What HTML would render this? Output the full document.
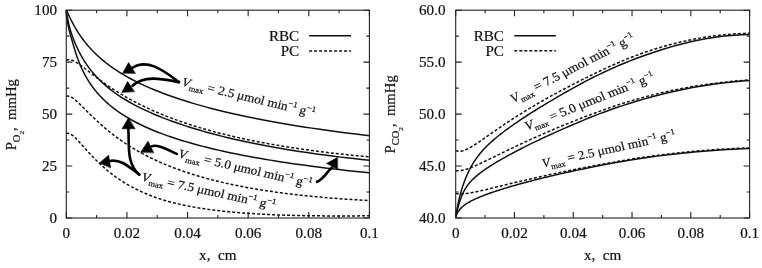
<!DOCTYPE html>
<html><head><meta charset="utf-8"><style>
html,body{margin:0;padding:0;background:#fff;}
svg{display:block;}
text{font-family:"Liberation Serif", "Times New Roman", serif;fill:#111;stroke:#111;stroke-width:0.2px;}
</style></head><body>
<svg xmlns="http://www.w3.org/2000/svg" width="762" height="268" viewBox="0 0 762 268" font-size="14">
<rect width="762" height="268" fill="#fff"/>
<g fill="none" stroke="#111" stroke-width="1.5"><path d="M66.30,10.20 L66.43,10.44 L66.57,10.70 L66.70,10.96 L66.85,11.24 L66.99,11.53 L67.14,11.83 L67.29,12.14 L67.45,12.46 L67.61,12.79 L67.78,13.13 L67.95,13.49 L68.12,13.85 L68.30,14.23 L68.49,14.61 L68.68,15.01 L68.87,15.41 L69.07,15.83 L69.27,16.25 L69.48,16.69 L69.70,17.14 L69.92,17.59 L70.14,18.06 L70.38,18.53 L70.61,19.02 L70.86,19.51 L71.11,20.01 L71.37,20.53 L71.63,21.05 L71.90,21.58 L72.18,22.12 L72.47,22.67 L72.76,23.23 L73.06,23.79 L73.37,24.37 L73.69,24.95 L74.01,25.54 L74.35,26.15 L74.69,26.75 L75.04,27.37 L75.40,28.00 L75.77,28.63 L76.15,29.27 L76.54,29.92 L76.94,30.58 L77.35,31.25 L77.77,31.92 L78.20,32.60 L78.65,33.29 L79.10,33.99 L79.57,34.69 L80.05,35.40 L80.54,36.12 L81.05,36.84 L81.57,37.57 L82.10,38.31 L82.65,39.06 L83.21,39.81 L83.78,40.57 L84.37,41.33 L84.98,42.10 L85.60,42.88 L86.24,43.67 L86.89,44.46 L87.56,45.25 L88.25,46.06 L88.96,46.87 L89.69,47.68 L90.43,48.50 L91.20,49.33 L91.98,50.16 L92.79,51.00 L93.62,51.84 L94.46,52.69 L95.33,53.54 L96.23,54.40 L97.15,55.27 L98.09,56.13 L99.05,57.01 L100.04,57.89 L101.06,58.77 L102.11,59.66 L103.18,60.55 L104.28,61.45 L105.40,62.35 L106.56,63.26 L107.75,64.17 L108.97,65.08 L110.22,66.00 L111.51,66.92 L112.83,67.85 L114.18,68.78 L115.57,69.72 L116.99,70.65 L118.45,71.60 L119.95,72.54 L121.49,73.49 L123.08,74.44 L124.70,75.40 L126.36,76.35 L128.07,77.31 L129.82,78.28 L131.62,79.25 L133.47,80.22 L135.36,81.19 L137.31,82.16 L139.30,83.14 L141.35,84.12 L143.45,85.10 L145.61,86.09 L147.83,87.08 L150.10,88.07 L152.43,89.06 L154.82,90.05 L157.28,91.05 L159.80,92.04 L162.38,93.04 L165.04,94.04 L167.76,95.04 L170.56,96.05 L173.43,97.05 L176.37,98.06 L179.39,99.06 L182.49,100.07 L185.67,101.08 L188.94,102.09 L192.29,103.10 L195.73,104.11 L199.26,105.13 L202.88,106.14 L206.60,107.15 L210.41,108.16 L214.33,109.18 L218.35,110.19 L222.47,111.20 L226.70,112.21 L231.05,113.22 L235.50,114.23 L240.08,115.24 L244.77,116.24 L249.59,117.25 L254.53,118.25 L259.61,119.25 L264.81,120.25 L270.16,121.24 L275.64,122.23 L281.27,123.22 L287.05,124.21 L292.97,125.19 L299.06,126.17 L305.30,127.15 L311.70,128.12 L318.28,129.09 L325.03,130.05 L331.95,131.01 L339.06,131.97 L346.35,132.92 L353.84,133.86 L361.52,134.80 L369.40,135.74"/><path d="M66.30,10.20 L66.43,11.18 L66.57,12.15 L66.70,13.11 L66.85,14.05 L66.99,14.97 L67.14,15.89 L67.29,16.79 L67.45,17.68 L67.61,18.56 L67.78,19.42 L67.95,20.28 L68.12,21.13 L68.30,21.97 L68.49,22.81 L68.68,23.64 L68.87,24.46 L69.07,25.27 L69.27,26.08 L69.48,26.88 L69.70,27.68 L69.92,28.48 L70.14,29.28 L70.38,30.07 L70.61,30.86 L70.86,31.65 L71.11,32.44 L71.37,33.23 L71.63,34.02 L71.90,34.81 L72.18,35.61 L72.47,36.41 L72.76,37.21 L73.06,38.01 L73.37,38.82 L73.69,39.64 L74.01,40.46 L74.35,41.29 L74.69,42.13 L75.04,42.97 L75.40,43.82 L75.77,44.68 L76.15,45.54 L76.54,46.41 L76.94,47.29 L77.35,48.17 L77.77,49.06 L78.20,49.95 L78.65,50.85 L79.10,51.75 L79.57,52.66 L80.05,53.57 L80.54,54.49 L81.05,55.41 L81.57,56.34 L82.10,57.27 L82.65,58.21 L83.21,59.15 L83.78,60.09 L84.37,61.03 L84.98,61.98 L85.60,62.94 L86.24,63.89 L86.89,64.85 L87.56,65.81 L88.25,66.77 L88.96,67.74 L89.69,68.71 L90.43,69.68 L91.20,70.65 L91.98,71.63 L92.79,72.60 L93.62,73.58 L94.46,74.56 L95.33,75.54 L96.23,76.52 L97.15,77.51 L98.09,78.49 L99.05,79.47 L100.04,80.46 L101.06,81.45 L102.11,82.43 L103.18,83.42 L104.28,84.40 L105.40,85.39 L106.56,86.38 L107.75,87.36 L108.97,88.35 L110.22,89.34 L111.51,90.32 L112.83,91.31 L114.18,92.30 L115.57,93.29 L116.99,94.28 L118.45,95.27 L119.95,96.26 L121.49,97.26 L123.08,98.26 L124.70,99.26 L126.36,100.26 L128.07,101.27 L129.82,102.27 L131.62,103.28 L133.47,104.30 L135.36,105.31 L137.31,106.32 L139.30,107.34 L141.35,108.36 L143.45,109.38 L145.61,110.40 L147.83,111.42 L150.10,112.44 L152.43,113.47 L154.82,114.49 L157.28,115.52 L159.80,116.55 L162.38,117.58 L165.04,118.61 L167.76,119.65 L170.56,120.68 L173.43,121.72 L176.37,122.76 L179.39,123.80 L182.49,124.84 L185.67,125.89 L188.94,126.93 L192.29,127.98 L195.73,129.03 L199.26,130.08 L202.88,131.13 L206.60,132.18 L210.41,133.23 L214.33,134.28 L218.35,135.33 L222.47,136.37 L226.70,137.41 L231.05,138.45 L235.50,139.48 L240.08,140.51 L244.77,141.54 L249.59,142.56 L254.53,143.57 L259.61,144.58 L264.81,145.58 L270.16,146.57 L275.64,147.56 L281.27,148.54 L287.05,149.51 L292.97,150.47 L299.06,151.42 L305.30,152.35 L311.70,153.28 L318.28,154.20 L325.03,155.11 L331.95,156.00 L339.06,156.88 L346.35,157.75 L353.84,158.60 L361.52,159.44 L369.40,160.27"/><path d="M66.30,10.20 L66.43,11.90 L66.57,13.49 L66.70,15.00 L66.85,16.42 L66.99,17.77 L67.14,19.04 L67.29,20.25 L67.45,21.39 L67.61,22.47 L67.78,23.51 L67.95,24.49 L68.12,25.44 L68.30,26.35 L68.49,27.23 L68.68,28.08 L68.87,28.91 L69.07,29.73 L69.27,30.54 L69.48,31.35 L69.70,32.15 L69.92,32.96 L70.14,33.79 L70.38,34.62 L70.61,35.47 L70.86,36.34 L71.11,37.23 L71.37,38.14 L71.63,39.06 L71.90,40.01 L72.18,40.98 L72.47,41.98 L72.76,43.00 L73.06,44.04 L73.37,45.11 L73.69,46.19 L74.01,47.29 L74.35,48.41 L74.69,49.54 L75.04,50.69 L75.40,51.84 L75.77,52.99 L76.15,54.16 L76.54,55.32 L76.94,56.49 L77.35,57.66 L77.77,58.82 L78.20,59.98 L78.65,61.14 L79.10,62.30 L79.57,63.46 L80.05,64.62 L80.54,65.77 L81.05,66.92 L81.57,68.07 L82.10,69.21 L82.65,70.36 L83.21,71.50 L83.78,72.64 L84.37,73.78 L84.98,74.91 L85.60,76.05 L86.24,77.18 L86.89,78.30 L87.56,79.43 L88.25,80.55 L88.96,81.67 L89.69,82.79 L90.43,83.90 L91.20,85.01 L91.98,86.12 L92.79,87.23 L93.62,88.33 L94.46,89.43 L95.33,90.53 L96.23,91.62 L97.15,92.71 L98.09,93.79 L99.05,94.88 L100.04,95.96 L101.06,97.04 L102.11,98.11 L103.18,99.18 L104.28,100.25 L105.40,101.31 L106.56,102.37 L107.75,103.43 L108.97,104.49 L110.22,105.54 L111.51,106.59 L112.83,107.64 L114.18,108.68 L115.57,109.72 L116.99,110.76 L118.45,111.80 L119.95,112.83 L121.49,113.86 L123.08,114.88 L124.70,115.91 L126.36,116.93 L128.07,117.95 L129.82,118.96 L131.62,119.98 L133.47,120.99 L135.36,122.00 L137.31,123.00 L139.30,124.00 L141.35,125.00 L143.45,126.00 L145.61,127.00 L147.83,127.99 L150.10,128.98 L152.43,129.97 L154.82,130.95 L157.28,131.93 L159.80,132.91 L162.38,133.89 L165.04,134.87 L167.76,135.84 L170.56,136.81 L173.43,137.78 L176.37,138.75 L179.39,139.71 L182.49,140.67 L185.67,141.63 L188.94,142.59 L192.29,143.54 L195.73,144.49 L199.26,145.44 L202.88,146.38 L206.60,147.33 L210.41,148.27 L214.33,149.20 L218.35,150.13 L222.47,151.06 L226.70,151.99 L231.05,152.91 L235.50,153.83 L240.08,154.74 L244.77,155.65 L249.59,156.55 L254.53,157.46 L259.61,158.35 L264.81,159.25 L270.16,160.13 L275.64,161.02 L281.27,161.90 L287.05,162.77 L292.97,163.64 L299.06,164.50 L305.30,165.36 L311.70,166.22 L318.28,167.07 L325.03,167.91 L331.95,168.75 L339.06,169.58 L346.35,170.41 L353.84,171.23 L361.52,172.04 L369.40,172.85"/><path d="M455.70,216.80 L455.83,216.44 L455.96,216.09 L456.10,215.74 L456.24,215.39 L456.39,215.05 L456.53,214.71 L456.69,214.38 L456.84,214.05 L457.00,213.73 L457.17,213.40 L457.34,213.09 L457.51,212.77 L457.69,212.46 L457.87,212.16 L458.05,211.85 L458.25,211.55 L458.44,211.25 L458.64,210.96 L458.85,210.66 L459.06,210.37 L459.28,210.09 L459.51,209.80 L459.74,209.52 L459.97,209.24 L460.21,208.96 L460.46,208.68 L460.71,208.41 L460.98,208.13 L461.24,207.86 L461.52,207.59 L461.80,207.32 L462.09,207.05 L462.39,206.79 L462.69,206.52 L463.00,206.25 L463.32,205.99 L463.65,205.73 L463.99,205.46 L464.34,205.20 L464.69,204.93 L465.06,204.67 L465.43,204.41 L465.82,204.14 L466.21,203.88 L466.61,203.62 L467.03,203.35 L467.45,203.09 L467.89,202.82 L468.34,202.55 L468.80,202.28 L469.27,202.01 L469.75,201.74 L470.25,201.47 L470.76,201.20 L471.28,200.92 L471.82,200.65 L472.37,200.37 L472.93,200.09 L473.51,199.81 L474.11,199.52 L474.72,199.23 L475.34,198.94 L475.99,198.65 L476.65,198.36 L477.32,198.06 L478.02,197.76 L478.73,197.46 L479.46,197.15 L480.21,196.84 L480.98,196.53 L481.77,196.21 L482.57,195.89 L483.41,195.56 L484.26,195.24 L485.13,194.90 L486.03,194.57 L486.95,194.23 L487.90,193.88 L488.86,193.53 L489.86,193.18 L490.88,192.82 L491.93,192.46 L493.00,192.09 L494.10,191.71 L495.23,191.34 L496.40,190.95 L497.59,190.56 L498.81,190.17 L500.06,189.77 L501.35,189.36 L502.67,188.95 L504.02,188.53 L505.41,188.10 L506.84,187.67 L508.30,187.24 L509.80,186.79 L511.34,186.34 L512.92,185.88 L514.55,185.42 L516.21,184.95 L517.92,184.47 L519.67,183.99 L521.47,183.49 L523.31,182.99 L525.20,182.49 L527.14,181.97 L529.14,181.45 L531.18,180.92 L533.28,180.38 L535.43,179.83 L537.64,179.27 L539.90,178.71 L542.23,178.14 L544.61,177.56 L547.06,176.97 L549.57,176.37 L552.15,175.76 L554.79,175.14 L557.51,174.51 L560.29,173.88 L563.15,173.23 L566.08,172.58 L569.08,171.91 L572.17,171.24 L575.33,170.55 L578.58,169.86 L581.91,169.15 L585.33,168.44 L588.84,167.71 L592.44,166.98 L596.14,166.24 L599.93,165.49 L603.82,164.73 L607.81,163.98 L611.90,163.22 L616.10,162.46 L620.41,161.70 L624.84,160.95 L629.37,160.20 L634.03,159.45 L638.81,158.72 L643.71,157.99 L648.74,157.27 L653.90,156.56 L659.20,155.87 L664.63,155.19 L670.21,154.53 L675.93,153.88 L681.80,153.26 L687.82,152.66 L694.00,152.07 L700.34,151.51 L706.85,150.98 L713.52,150.47 L720.37,150.00 L727.40,149.55 L734.61,149.13 L742.01,148.75 L749.60,148.39"/><path d="M455.70,216.80 L455.83,216.25 L455.96,215.68 L456.10,215.10 L456.24,214.51 L456.39,213.90 L456.53,213.28 L456.69,212.65 L456.84,212.01 L457.00,211.36 L457.17,210.70 L457.34,210.03 L457.51,209.35 L457.69,208.67 L457.87,207.98 L458.05,207.28 L458.25,206.58 L458.44,205.87 L458.64,205.16 L458.85,204.45 L459.06,203.73 L459.28,203.01 L459.51,202.29 L459.74,201.57 L459.97,200.84 L460.21,200.12 L460.46,199.40 L460.71,198.68 L460.98,197.97 L461.24,197.25 L461.52,196.54 L461.80,195.84 L462.09,195.14 L462.39,194.45 L462.69,193.76 L463.00,193.08 L463.32,192.40 L463.65,191.74 L463.99,191.08 L464.34,190.43 L464.69,189.79 L465.06,189.16 L465.43,188.54 L465.82,187.92 L466.21,187.31 L466.61,186.70 L467.03,186.10 L467.45,185.51 L467.89,184.92 L468.34,184.33 L468.80,183.75 L469.27,183.18 L469.75,182.60 L470.25,182.03 L470.76,181.46 L471.28,180.89 L471.82,180.33 L472.37,179.77 L472.93,179.20 L473.51,178.64 L474.11,178.08 L474.72,177.52 L475.34,176.95 L475.99,176.39 L476.65,175.82 L477.32,175.26 L478.02,174.69 L478.73,174.11 L479.46,173.54 L480.21,172.96 L480.98,172.38 L481.77,171.79 L482.57,171.20 L483.41,170.60 L484.26,170.00 L485.13,169.39 L486.03,168.78 L486.95,168.16 L487.90,167.53 L488.86,166.89 L489.86,166.25 L490.88,165.60 L491.93,164.94 L493.00,164.27 L494.10,163.60 L495.23,162.91 L496.40,162.22 L497.59,161.51 L498.81,160.79 L500.06,160.07 L501.35,159.33 L502.67,158.58 L504.02,157.81 L505.41,157.04 L506.84,156.25 L508.30,155.45 L509.80,154.64 L511.34,153.81 L512.92,152.97 L514.55,152.11 L516.21,151.24 L517.92,150.36 L519.67,149.46 L521.47,148.54 L523.31,147.60 L525.20,146.65 L527.14,145.69 L529.14,144.70 L531.18,143.70 L533.28,142.68 L535.43,141.64 L537.64,140.58 L539.90,139.51 L542.23,138.41 L544.61,137.29 L547.06,136.16 L549.57,135.00 L552.15,133.82 L554.79,132.63 L557.51,131.40 L560.29,130.16 L563.15,128.90 L566.08,127.61 L569.08,126.30 L572.17,124.96 L575.33,123.61 L578.58,122.23 L581.91,120.84 L585.33,119.43 L588.84,118.00 L592.44,116.57 L596.14,115.12 L599.93,113.67 L603.82,112.21 L607.81,110.74 L611.90,109.28 L616.10,107.81 L620.41,106.35 L624.84,104.89 L629.37,103.43 L634.03,101.99 L638.81,100.55 L643.71,99.13 L648.74,97.72 L653.90,96.33 L659.20,94.95 L664.63,93.60 L670.21,92.27 L675.93,90.97 L681.80,89.72 L687.82,88.50 L694.00,87.34 L700.34,86.23 L706.85,85.18 L713.52,84.20 L720.37,83.30 L727.40,82.48 L734.61,81.74 L742.01,81.10 L749.60,80.55"/><path d="M455.70,216.80 L455.83,215.97 L455.96,215.13 L456.10,214.29 L456.24,213.45 L456.39,212.60 L456.53,211.74 L456.69,210.88 L456.84,210.02 L457.00,209.15 L457.17,208.27 L457.34,207.40 L457.51,206.52 L457.69,205.63 L457.87,204.74 L458.05,203.85 L458.25,202.95 L458.44,202.05 L458.64,201.15 L458.85,200.24 L459.06,199.33 L459.28,198.42 L459.51,197.50 L459.74,196.58 L459.97,195.66 L460.21,194.74 L460.46,193.81 L460.71,192.89 L460.98,191.96 L461.24,191.02 L461.52,190.09 L461.80,189.15 L462.09,188.21 L462.39,187.27 L462.69,186.33 L463.00,185.39 L463.32,184.45 L463.65,183.50 L463.99,182.55 L464.34,181.61 L464.69,180.66 L465.06,179.71 L465.43,178.76 L465.82,177.81 L466.21,176.86 L466.61,175.91 L467.03,174.96 L467.45,174.01 L467.89,173.06 L468.34,172.11 L468.80,171.16 L469.27,170.21 L469.75,169.26 L470.25,168.31 L470.76,167.36 L471.28,166.42 L471.82,165.47 L472.37,164.53 L472.93,163.58 L473.51,162.64 L474.11,161.70 L474.72,160.76 L475.34,159.83 L475.99,158.89 L476.65,157.96 L477.32,157.03 L478.02,156.10 L478.73,155.17 L479.46,154.25 L480.21,153.33 L480.98,152.41 L481.77,151.49 L482.57,150.57 L483.41,149.66 L484.26,148.74 L485.13,147.82 L486.03,146.90 L486.95,145.98 L487.90,145.06 L488.86,144.13 L489.86,143.20 L490.88,142.27 L491.93,141.33 L493.00,140.38 L494.10,139.43 L495.23,138.47 L496.40,137.50 L497.59,136.52 L498.81,135.54 L500.06,134.54 L501.35,133.54 L502.67,132.52 L504.02,131.49 L505.41,130.45 L506.84,129.40 L508.30,128.33 L509.80,127.25 L511.34,126.15 L512.92,125.04 L514.55,123.91 L516.21,122.76 L517.92,121.60 L519.67,120.42 L521.47,119.22 L523.31,118.00 L525.20,116.76 L527.14,115.50 L529.14,114.22 L531.18,112.92 L533.28,111.59 L535.43,110.25 L537.64,108.87 L539.90,107.48 L542.23,106.05 L544.61,104.60 L547.06,103.13 L549.57,101.63 L552.15,100.10 L554.79,98.54 L557.51,96.95 L560.29,95.34 L563.15,93.69 L566.08,92.01 L569.08,90.31 L572.17,88.58 L575.33,86.82 L578.58,85.05 L581.91,83.25 L585.33,81.44 L588.84,79.62 L592.44,77.78 L596.14,75.93 L599.93,74.08 L603.82,72.22 L607.81,70.37 L611.90,68.51 L616.10,66.65 L620.41,64.80 L624.84,62.96 L629.37,61.12 L634.03,59.30 L638.81,57.49 L643.71,55.70 L648.74,53.93 L653.90,52.18 L659.20,50.46 L664.63,48.76 L670.21,47.10 L675.93,45.48 L681.80,43.93 L687.82,42.45 L694.00,41.05 L700.34,39.75 L706.85,38.57 L713.52,37.51 L720.37,36.60 L727.40,35.83 L734.61,35.23 L742.01,34.80 L749.60,34.57"/></g>
<g fill="none" stroke="#111" stroke-width="1.5" stroke-dasharray="3 2"><path d="M66.30,60.30 L66.59,60.16 L66.89,60.03 L67.19,59.91 L67.50,59.82 L67.81,59.75 L68.13,59.69 L68.46,59.66 L68.79,59.64 L69.13,59.64 L69.48,59.66 L69.83,59.69 L70.19,59.74 L70.56,59.81 L70.93,59.90 L71.31,60.00 L71.70,60.12 L72.09,60.26 L72.50,60.41 L72.91,60.58 L73.33,60.76 L73.75,60.97 L74.19,61.18 L74.63,61.41 L75.09,61.66 L75.55,61.92 L76.02,62.20 L76.50,62.49 L76.99,62.80 L77.48,63.12 L77.99,63.45 L78.51,63.80 L79.04,64.16 L79.57,64.54 L80.12,64.92 L80.68,65.33 L81.25,65.74 L81.83,66.17 L82.43,66.61 L83.03,67.06 L83.64,67.53 L84.27,68.00 L84.91,68.49 L85.56,68.99 L86.23,69.51 L86.90,70.03 L87.60,70.57 L88.30,71.11 L89.02,71.67 L89.75,72.24 L90.49,72.81 L91.25,73.40 L92.03,74.00 L92.82,74.61 L93.62,75.22 L94.45,75.85 L95.28,76.49 L96.14,77.13 L97.00,77.79 L97.89,78.45 L98.79,79.12 L99.72,79.80 L100.66,80.49 L101.61,81.19 L102.59,81.89 L103.58,82.61 L104.60,83.32 L105.63,84.05 L106.68,84.79 L107.76,85.53 L108.85,86.27 L109.97,87.03 L111.11,87.79 L112.27,88.56 L113.45,89.33 L114.66,90.11 L115.88,90.89 L117.14,91.68 L118.41,92.48 L119.72,93.28 L121.04,94.08 L122.40,94.89 L123.77,95.71 L125.18,96.53 L126.61,97.35 L128.07,98.18 L129.56,99.01 L131.08,99.84 L132.63,100.68 L134.21,101.52 L135.81,102.37 L137.45,103.21 L139.12,104.06 L140.83,104.92 L142.56,105.77 L144.33,106.63 L146.14,107.49 L147.98,108.35 L149.85,109.21 L151.76,110.08 L153.71,110.94 L155.70,111.81 L157.72,112.67 L159.79,113.54 L161.89,114.41 L164.04,115.28 L166.22,116.15 L168.45,117.02 L170.72,117.89 L173.04,118.75 L175.40,119.62 L177.81,120.49 L180.26,121.35 L182.76,122.22 L185.31,123.08 L187.91,123.94 L190.56,124.81 L193.26,125.66 L196.02,126.52 L198.82,127.37 L201.68,128.23 L204.60,129.07 L207.57,129.92 L210.61,130.76 L213.70,131.60 L216.84,132.44 L220.06,133.27 L223.33,134.10 L226.67,134.92 L230.07,135.74 L233.53,136.56 L237.07,137.36 L240.67,138.17 L244.34,138.97 L248.09,139.76 L251.90,140.54 L255.80,141.32 L259.76,142.10 L263.81,142.86 L267.93,143.62 L272.13,144.37 L276.41,145.12 L280.78,145.85 L285.23,146.58 L289.77,147.30 L294.39,148.01 L299.10,148.71 L303.91,149.40 L308.81,150.09 L313.81,150.76 L318.90,151.43 L324.09,152.08 L329.38,152.72 L334.77,153.36 L340.27,153.98 L345.87,154.59 L351.59,155.19 L357.41,155.78 L363.35,156.35 L369.40,156.92"/><path d="M66.30,96.40 L66.59,96.30 L66.89,96.22 L67.19,96.16 L67.50,96.12 L67.81,96.11 L68.13,96.12 L68.46,96.16 L68.79,96.21 L69.13,96.29 L69.48,96.38 L69.83,96.50 L70.19,96.64 L70.56,96.80 L70.93,96.98 L71.31,97.18 L71.70,97.40 L72.09,97.64 L72.50,97.90 L72.91,98.18 L73.33,98.47 L73.75,98.79 L74.19,99.12 L74.63,99.47 L75.09,99.84 L75.55,100.23 L76.02,100.63 L76.50,101.05 L76.99,101.48 L77.48,101.94 L77.99,102.41 L78.51,102.89 L79.04,103.39 L79.57,103.90 L80.12,104.43 L80.68,104.98 L81.25,105.54 L81.83,106.11 L82.43,106.70 L83.03,107.30 L83.64,107.91 L84.27,108.54 L84.91,109.18 L85.56,109.83 L86.23,110.50 L86.90,111.18 L87.60,111.87 L88.30,112.57 L89.02,113.28 L89.75,114.00 L90.49,114.74 L91.25,115.48 L92.03,116.23 L92.82,117.00 L93.62,117.77 L94.45,118.56 L95.28,119.35 L96.14,120.15 L97.00,120.96 L97.89,121.78 L98.79,122.61 L99.72,123.44 L100.66,124.28 L101.61,125.13 L102.59,125.99 L103.58,126.85 L104.60,127.72 L105.63,128.60 L106.68,129.48 L107.76,130.37 L108.85,131.26 L109.97,132.16 L111.11,133.06 L112.27,133.97 L113.45,134.88 L114.66,135.80 L115.88,136.72 L117.14,137.64 L118.41,138.57 L119.72,139.50 L121.04,140.43 L122.40,141.37 L123.77,142.31 L125.18,143.25 L126.61,144.19 L128.07,145.13 L129.56,146.08 L131.08,147.02 L132.63,147.97 L134.21,148.92 L135.81,149.86 L137.45,150.81 L139.12,151.76 L140.83,152.70 L142.56,153.65 L144.33,154.59 L146.14,155.53 L147.98,156.47 L149.85,157.41 L151.76,158.35 L153.71,159.28 L155.70,160.21 L157.72,161.14 L159.79,162.07 L161.89,162.99 L164.04,163.91 L166.22,164.82 L168.45,165.73 L170.72,166.64 L173.04,167.54 L175.40,168.43 L177.81,169.32 L180.26,170.20 L182.76,171.08 L185.31,171.95 L187.91,172.82 L190.56,173.68 L193.26,174.53 L196.02,175.38 L198.82,176.21 L201.68,177.04 L204.60,177.86 L207.57,178.68 L210.61,179.48 L213.70,180.28 L216.84,181.06 L220.06,181.84 L223.33,182.61 L226.67,183.37 L230.07,184.11 L233.53,184.85 L237.07,185.58 L240.67,186.29 L244.34,187.00 L248.09,187.69 L251.90,188.37 L255.80,189.04 L259.76,189.70 L263.81,190.34 L267.93,190.97 L272.13,191.59 L276.41,192.20 L280.78,192.79 L285.23,193.37 L289.77,193.93 L294.39,194.48 L299.10,195.02 L303.91,195.54 L308.81,196.04 L313.81,196.53 L318.90,197.00 L324.09,197.46 L329.38,197.90 L334.77,198.33 L340.27,198.74 L345.87,199.13 L351.59,199.50 L357.41,199.86 L363.35,200.20 L369.40,200.52"/><path d="M66.30,133.70 L66.59,133.56 L66.89,133.46 L67.19,133.38 L67.50,133.33 L67.81,133.31 L68.13,133.31 L68.46,133.34 L68.79,133.40 L69.13,133.49 L69.48,133.60 L69.83,133.73 L70.19,133.89 L70.56,134.08 L70.93,134.29 L71.31,134.52 L71.70,134.78 L72.09,135.06 L72.50,135.36 L72.91,135.68 L73.33,136.03 L73.75,136.40 L74.19,136.78 L74.63,137.19 L75.09,137.62 L75.55,138.07 L76.02,138.53 L76.50,139.02 L76.99,139.52 L77.48,140.04 L77.99,140.58 L78.51,141.14 L79.04,141.71 L79.57,142.30 L80.12,142.90 L80.68,143.52 L81.25,144.15 L81.83,144.80 L82.43,145.47 L83.03,146.14 L83.64,146.83 L84.27,147.54 L84.91,148.25 L85.56,148.98 L86.23,149.72 L86.90,150.47 L87.60,151.23 L88.30,152.00 L89.02,152.78 L89.75,153.57 L90.49,154.37 L91.25,155.18 L92.03,156.00 L92.82,156.82 L93.62,157.65 L94.45,158.49 L95.28,159.34 L96.14,160.19 L97.00,161.04 L97.89,161.91 L98.79,162.78 L99.72,163.65 L100.66,164.52 L101.61,165.40 L102.59,166.29 L103.58,167.17 L104.60,168.06 L105.63,168.95 L106.68,169.84 L107.76,170.74 L108.85,171.63 L109.97,172.53 L111.11,173.42 L112.27,174.31 L113.45,175.21 L114.66,176.10 L115.88,176.99 L117.14,177.87 L118.41,178.76 L119.72,179.64 L121.04,180.52 L122.40,181.40 L123.77,182.27 L125.18,183.13 L126.61,183.99 L128.07,184.85 L129.56,185.70 L131.08,186.54 L132.63,187.38 L134.21,188.21 L135.81,189.03 L137.45,189.84 L139.12,190.65 L140.83,191.44 L142.56,192.23 L144.33,193.01 L146.14,193.77 L147.98,194.53 L149.85,195.28 L151.76,196.01 L153.71,196.73 L155.70,197.44 L157.72,198.14 L159.79,198.83 L161.89,199.50 L164.04,200.16 L166.22,200.80 L168.45,201.43 L170.72,202.05 L173.04,202.65 L175.40,203.24 L177.81,203.82 L180.26,204.38 L182.76,204.93 L185.31,205.47 L187.91,205.99 L190.56,206.50 L193.26,206.99 L196.02,207.47 L198.82,207.94 L201.68,208.40 L204.60,208.84 L207.57,209.27 L210.61,209.68 L213.70,210.08 L216.84,210.47 L220.06,210.84 L223.33,211.21 L226.67,211.55 L230.07,211.89 L233.53,212.21 L237.07,212.52 L240.67,212.81 L244.34,213.09 L248.09,213.36 L251.90,213.61 L255.80,213.85 L259.76,214.08 L263.81,214.30 L267.93,214.50 L272.13,214.69 L276.41,214.86 L280.78,215.02 L285.23,215.17 L289.77,215.31 L294.39,215.43 L299.10,215.54 L303.91,215.64 L308.81,215.72 L313.81,215.79 L318.90,215.85 L324.09,215.89 L329.38,215.92 L334.77,215.94 L340.27,215.94 L345.87,215.93 L351.59,215.91 L357.41,215.88 L363.35,215.83 L369.40,215.77"/><path d="M455.70,193.40 L455.99,193.46 L456.28,193.52 L456.58,193.58 L456.89,193.63 L457.20,193.67 L457.51,193.72 L457.84,193.75 L458.17,193.79 L458.50,193.81 L458.84,193.84 L459.19,193.86 L459.55,193.87 L459.91,193.89 L460.28,193.89 L460.65,193.89 L461.04,193.89 L461.43,193.89 L461.83,193.87 L462.23,193.86 L462.65,193.84 L463.07,193.81 L463.50,193.78 L463.93,193.75 L464.38,193.71 L464.84,193.67 L465.30,193.62 L465.77,193.57 L466.25,193.51 L466.74,193.45 L467.24,193.39 L467.75,193.32 L468.27,193.24 L468.80,193.16 L469.34,193.08 L469.89,192.99 L470.45,192.89 L471.03,192.79 L471.61,192.69 L472.20,192.58 L472.81,192.47 L473.42,192.35 L474.05,192.23 L474.69,192.10 L475.34,191.97 L476.01,191.83 L476.69,191.69 L477.38,191.54 L478.08,191.39 L478.80,191.24 L479.53,191.07 L480.28,190.91 L481.04,190.74 L481.81,190.56 L482.60,190.38 L483.41,190.20 L484.23,190.00 L485.07,189.81 L485.92,189.61 L486.79,189.40 L487.67,189.19 L488.57,188.98 L489.49,188.76 L490.43,188.53 L491.39,188.30 L492.36,188.06 L493.35,187.82 L494.36,187.58 L495.39,187.32 L496.44,187.07 L497.51,186.81 L498.61,186.54 L499.72,186.27 L500.85,185.99 L502.01,185.71 L503.18,185.42 L504.38,185.13 L505.61,184.83 L506.85,184.53 L508.13,184.22 L509.42,183.91 L510.74,183.59 L512.09,183.27 L513.46,182.94 L514.85,182.60 L516.28,182.26 L517.73,181.92 L519.21,181.57 L520.72,181.21 L522.25,180.85 L523.82,180.48 L525.42,180.11 L527.04,179.73 L528.70,179.35 L530.39,178.96 L532.12,178.57 L533.87,178.17 L535.66,177.77 L537.49,177.36 L539.34,176.94 L541.24,176.52 L543.17,176.09 L545.14,175.66 L547.14,175.22 L549.19,174.78 L551.27,174.33 L553.40,173.88 L555.56,173.42 L557.77,172.95 L560.02,172.48 L562.31,172.01 L564.64,171.52 L567.02,171.04 L569.45,170.54 L571.92,170.04 L574.44,169.54 L577.01,169.03 L579.63,168.51 L582.30,167.99 L585.02,167.46 L587.79,166.93 L590.62,166.39 L593.49,165.85 L596.43,165.30 L599.42,164.74 L602.47,164.18 L605.58,163.61 L608.74,163.04 L611.97,162.46 L615.26,161.88 L618.61,161.29 L622.03,160.71 L625.51,160.12 L629.06,159.53 L632.68,158.95 L636.37,158.37 L640.13,157.79 L643.96,157.22 L647.86,156.65 L651.84,156.09 L655.89,155.54 L660.03,154.99 L664.24,154.46 L668.53,153.93 L672.91,153.42 L677.37,152.92 L681.92,152.44 L686.55,151.97 L691.27,151.52 L696.08,151.08 L700.99,150.66 L705.99,150.26 L711.08,149.88 L716.28,149.53 L721.57,149.19 L726.96,148.88 L732.46,148.59 L738.07,148.33 L743.78,148.09 L749.60,147.88"/><path d="M455.70,170.60 L455.99,170.65 L456.28,170.69 L456.58,170.73 L456.89,170.76 L457.20,170.79 L457.51,170.80 L457.84,170.81 L458.17,170.81 L458.50,170.81 L458.84,170.79 L459.19,170.77 L459.55,170.75 L459.91,170.71 L460.28,170.67 L460.65,170.62 L461.04,170.56 L461.43,170.50 L461.83,170.43 L462.23,170.35 L462.65,170.26 L463.07,170.16 L463.50,170.06 L463.93,169.95 L464.38,169.83 L464.84,169.70 L465.30,169.57 L465.77,169.43 L466.25,169.28 L466.74,169.12 L467.24,168.95 L467.75,168.77 L468.27,168.59 L468.80,168.40 L469.34,168.20 L469.89,167.99 L470.45,167.78 L471.03,167.55 L471.61,167.32 L472.20,167.08 L472.81,166.83 L473.42,166.57 L474.05,166.30 L474.69,166.03 L475.34,165.74 L476.01,165.45 L476.69,165.15 L477.38,164.84 L478.08,164.52 L478.80,164.19 L479.53,163.85 L480.28,163.51 L481.04,163.15 L481.81,162.79 L482.60,162.41 L483.41,162.03 L484.23,161.64 L485.07,161.24 L485.92,160.83 L486.79,160.41 L487.67,159.98 L488.57,159.54 L489.49,159.09 L490.43,158.64 L491.39,158.17 L492.36,157.70 L493.35,157.21 L494.36,156.72 L495.39,156.21 L496.44,155.70 L497.51,155.17 L498.61,154.64 L499.72,154.10 L500.85,153.54 L502.01,152.98 L503.18,152.41 L504.38,151.82 L505.61,151.23 L506.85,150.63 L508.13,150.01 L509.42,149.39 L510.74,148.76 L512.09,148.11 L513.46,147.46 L514.85,146.79 L516.28,146.12 L517.73,145.43 L519.21,144.74 L520.72,144.03 L522.25,143.31 L523.82,142.59 L525.42,141.85 L527.04,141.10 L528.70,140.34 L530.39,139.57 L532.12,138.79 L533.87,138.00 L535.66,137.20 L537.49,136.39 L539.34,135.56 L541.24,134.73 L543.17,133.88 L545.14,133.02 L547.14,132.16 L549.19,131.28 L551.27,130.39 L553.40,129.49 L555.56,128.57 L557.77,127.65 L560.02,126.71 L562.31,125.77 L564.64,124.81 L567.02,123.84 L569.45,122.86 L571.92,121.87 L574.44,120.86 L577.01,119.85 L579.63,118.82 L582.30,117.78 L585.02,116.73 L587.79,115.67 L590.62,114.60 L593.49,113.52 L596.43,112.43 L599.42,111.33 L602.47,110.23 L605.58,109.13 L608.74,108.02 L611.97,106.92 L615.26,105.81 L618.61,104.71 L622.03,103.61 L625.51,102.52 L629.06,101.43 L632.68,100.35 L636.37,99.28 L640.13,98.22 L643.96,97.17 L647.86,96.13 L651.84,95.11 L655.89,94.11 L660.03,93.12 L664.24,92.15 L668.53,91.20 L672.91,90.27 L677.37,89.37 L681.92,88.49 L686.55,87.63 L691.27,86.81 L696.08,86.01 L700.99,85.24 L705.99,84.50 L711.08,83.79 L716.28,83.12 L721.57,82.49 L726.96,81.89 L732.46,81.32 L738.07,80.80 L743.78,80.32 L749.60,79.88"/><path d="M455.70,150.40 L455.99,150.55 L456.28,150.69 L456.58,150.81 L456.89,150.92 L457.20,151.02 L457.51,151.10 L457.84,151.17 L458.17,151.23 L458.50,151.27 L458.84,151.29 L459.19,151.31 L459.55,151.31 L459.91,151.30 L460.28,151.27 L460.65,151.23 L461.04,151.18 L461.43,151.11 L461.83,151.03 L462.23,150.94 L462.65,150.83 L463.07,150.71 L463.50,150.58 L463.93,150.43 L464.38,150.27 L464.84,150.10 L465.30,149.91 L465.77,149.71 L466.25,149.50 L466.74,149.27 L467.24,149.03 L467.75,148.78 L468.27,148.52 L468.80,148.24 L469.34,147.95 L469.89,147.65 L470.45,147.33 L471.03,147.00 L471.61,146.66 L472.20,146.30 L472.81,145.94 L473.42,145.56 L474.05,145.16 L474.69,144.76 L475.34,144.34 L476.01,143.91 L476.69,143.47 L477.38,143.01 L478.08,142.54 L478.80,142.06 L479.53,141.57 L480.28,141.06 L481.04,140.54 L481.81,140.01 L482.60,139.47 L483.41,138.91 L484.23,138.34 L485.07,137.76 L485.92,137.17 L486.79,136.57 L487.67,135.95 L488.57,135.32 L489.49,134.68 L490.43,134.03 L491.39,133.36 L492.36,132.69 L493.35,132.00 L494.36,131.30 L495.39,130.58 L496.44,129.86 L497.51,129.12 L498.61,128.37 L499.72,127.61 L500.85,126.84 L502.01,126.05 L503.18,125.26 L504.38,124.45 L505.61,123.63 L506.85,122.80 L508.13,121.96 L509.42,121.10 L510.74,120.24 L512.09,119.36 L513.46,118.47 L514.85,117.57 L516.28,116.66 L517.73,115.74 L519.21,114.80 L520.72,113.85 L522.25,112.90 L523.82,111.93 L525.42,110.95 L527.04,109.96 L528.70,108.95 L530.39,107.94 L532.12,106.91 L533.87,105.88 L535.66,104.82 L537.49,103.76 L539.34,102.69 L541.24,101.60 L543.17,100.50 L545.14,99.38 L547.14,98.26 L549.19,97.12 L551.27,95.96 L553.40,94.79 L555.56,93.61 L557.77,92.42 L560.02,91.21 L562.31,89.98 L564.64,88.74 L567.02,87.49 L569.45,86.22 L571.92,84.93 L574.44,83.64 L577.01,82.32 L579.63,80.99 L582.30,79.64 L585.02,78.28 L587.79,76.90 L590.62,75.51 L593.49,74.10 L596.43,72.68 L599.42,71.24 L602.47,69.80 L605.58,68.35 L608.74,66.89 L611.97,65.44 L615.26,63.98 L618.61,62.53 L622.03,61.09 L625.51,59.65 L629.06,58.22 L632.68,56.81 L636.37,55.41 L640.13,54.03 L643.96,52.66 L647.86,51.32 L651.84,50.01 L655.89,48.72 L660.03,47.46 L664.24,46.23 L668.53,45.04 L672.91,43.88 L677.37,42.77 L681.92,41.69 L686.55,40.66 L691.27,39.68 L696.08,38.74 L700.99,37.87 L705.99,37.06 L711.08,36.31 L716.28,35.63 L721.57,35.03 L726.96,34.50 L732.46,34.06 L738.07,33.70 L743.78,33.43 L749.60,33.26"/></g>
<g fill="none" stroke="#000" stroke-width="2.6" stroke-linecap="round"><path d="M179.0,82.1 C166.3,72.8 148.1,57.2 132.0,68.0"/><path d="M122.8,73.0 L128.6,62.6 L135.3,73.2 Z" fill="#000" stroke="#000" stroke-width="0.6" stroke-linejoin="miter"/><path d="M179.0,82.1 C164.3,79.4 145.1,74.4 132.5,85.8"/><path d="M121.9,92.2 L127.6,81.4 L134.3,91.4 Z" fill="#000" stroke="#000" stroke-width="0.6" stroke-linejoin="miter"/><path d="M139.3,174.6 C125.9,163.3 129.5,143.9 128.3,128.5"/><path d="M128.4,118.0 L122.0,128.8 L134.8,128.8 Z" fill="#000" stroke="#000" stroke-width="0.6" stroke-linejoin="miter"/><path d="M139.3,174.6 C130.6,168.4 121.4,158.4 109.5,161.0"/><path d="M99.5,162.9 L108.6,155.2 L110.6,167.6 Z" fill="#000" stroke="#000" stroke-width="0.6" stroke-linejoin="miter"/><path d="M176.8,153.9 C166,149 157,144 151.5,146.4"/><path d="M140.8,152.1 L148.0,141.2 L153.6,152.6 Z" fill="#000" stroke="#000" stroke-width="0.6" stroke-linejoin="miter"/><path d="M317.1,181.8 C323.9,179.2 326.8,171.6 332.3,167.2"/><path d="M337.4,157.5 L326.6,163.4 L337.4,169.0 Z" fill="#000" stroke="#000" stroke-width="0.6" stroke-linejoin="miter"/></g>
<g fill="none" stroke="#222" stroke-width="1.1">
<rect x="66.30" y="10.2" width="303.10" height="207.8"/>
<rect x="455.70" y="10.2" width="293.90" height="207.8"/>
<path d="M66.30,218.00 v-6.0 M66.30,10.20 v6.0 M96.61,218.00 v-3.0 M96.61,10.20 v3.0 M126.92,218.00 v-6.0 M126.92,10.20 v6.0 M157.23,218.00 v-3.0 M157.23,10.20 v3.0 M187.54,218.00 v-6.0 M187.54,10.20 v6.0 M217.85,218.00 v-3.0 M217.85,10.20 v3.0 M248.16,218.00 v-6.0 M248.16,10.20 v6.0 M278.47,218.00 v-3.0 M278.47,10.20 v3.0 M308.78,218.00 v-6.0 M308.78,10.20 v6.0 M339.09,218.00 v-3.0 M339.09,10.20 v3.0 M369.40,218.00 v-6.0 M369.40,10.20 v6.0 M66.30,218.00 h6.0 M369.40,218.00 h-6.0 M66.30,192.03 h3.0 M369.40,192.03 h-3.0 M66.30,166.05 h6.0 M369.40,166.05 h-6.0 M66.30,140.07 h3.0 M369.40,140.07 h-3.0 M66.30,114.10 h6.0 M369.40,114.10 h-6.0 M66.30,88.12 h3.0 M369.40,88.12 h-3.0 M66.30,62.15 h6.0 M369.40,62.15 h-6.0 M66.30,36.17 h3.0 M369.40,36.17 h-3.0 M66.30,10.20 h6.0 M369.40,10.20 h-6.0 M455.70,218.00 v-6.0 M455.70,10.20 v6.0 M485.09,218.00 v-3.0 M485.09,10.20 v3.0 M514.48,218.00 v-6.0 M514.48,10.20 v6.0 M543.87,218.00 v-3.0 M543.87,10.20 v3.0 M573.26,218.00 v-6.0 M573.26,10.20 v6.0 M602.65,218.00 v-3.0 M602.65,10.20 v3.0 M632.04,218.00 v-6.0 M632.04,10.20 v6.0 M661.43,218.00 v-3.0 M661.43,10.20 v3.0 M690.82,218.00 v-6.0 M690.82,10.20 v6.0 M720.21,218.00 v-3.0 M720.21,10.20 v3.0 M749.60,218.00 v-6.0 M749.60,10.20 v6.0 M455.70,218.00 h6.0 M749.60,218.00 h-6.0 M455.70,192.03 h3.0 M749.60,192.03 h-3.0 M455.70,166.05 h6.0 M749.60,166.05 h-6.0 M455.70,140.07 h3.0 M749.60,140.07 h-3.0 M455.70,114.10 h6.0 M749.60,114.10 h-6.0 M455.70,88.12 h3.0 M749.60,88.12 h-3.0 M455.70,62.15 h6.0 M749.60,62.15 h-6.0 M455.70,36.17 h3.0 M749.60,36.17 h-3.0 M455.70,10.20 h6.0 M749.60,10.20 h-6.0"/>
<path d="M309.1,35.7 H351 M514.3,35.7 H555.9" stroke-width="1.5" stroke="#111"/>
<path d="M309.1,51 H351 M514.3,50.7 H555.9" stroke-width="1.5" stroke="#111" stroke-dasharray="3 2"/>
</g>
<text transform="translate(66.30,238.20) scale(1.08,1)" text-anchor="middle">0</text>
<text transform="translate(126.92,238.20) scale(1.08,1)" text-anchor="middle">0.02</text>
<text transform="translate(187.54,238.20) scale(1.08,1)" text-anchor="middle">0.04</text>
<text transform="translate(248.16,238.20) scale(1.08,1)" text-anchor="middle">0.06</text>
<text transform="translate(308.78,238.20) scale(1.08,1)" text-anchor="middle">0.08</text>
<text transform="translate(369.40,238.20) scale(1.08,1)" text-anchor="middle">0.1</text>
<text transform="translate(455.70,238.20) scale(1.08,1)" text-anchor="middle">0</text>
<text transform="translate(514.48,238.20) scale(1.08,1)" text-anchor="middle">0.02</text>
<text transform="translate(573.26,238.20) scale(1.08,1)" text-anchor="middle">0.04</text>
<text transform="translate(632.04,238.20) scale(1.08,1)" text-anchor="middle">0.06</text>
<text transform="translate(690.82,238.20) scale(1.08,1)" text-anchor="middle">0.08</text>
<text transform="translate(749.60,238.20) scale(1.08,1)" text-anchor="middle">0.1</text>
<text transform="translate(57.00,222.80) scale(1.08,1)" text-anchor="end">0</text>
<text transform="translate(57.00,170.80) scale(1.08,1)" text-anchor="end">25</text>
<text transform="translate(57.00,118.80) scale(1.08,1)" text-anchor="end">50</text>
<text transform="translate(57.00,66.80) scale(1.08,1)" text-anchor="end">75</text>
<text transform="translate(57.00,14.80) scale(1.08,1)" text-anchor="end">100</text>
<text transform="translate(445.50,222.80) scale(1.08,1)" text-anchor="end">40.0</text>
<text transform="translate(445.50,170.80) scale(1.08,1)" text-anchor="end">45.0</text>
<text transform="translate(445.50,118.80) scale(1.08,1)" text-anchor="end">50.0</text>
<text transform="translate(445.50,66.80) scale(1.08,1)" text-anchor="end">55.0</text>
<text transform="translate(445.50,14.80) scale(1.08,1)" text-anchor="end">60.0</text>
<text transform="translate(217.80,260.00) scale(1.08,1)" text-anchor="middle">x,&#160; cm</text>
<text transform="translate(602.60,260.00) scale(1.08,1)" text-anchor="middle">x,&#160; cm</text>
<text transform="translate(299.20,40.90) scale(1.08,1)" text-anchor="end">RBC</text>
<text transform="translate(299.20,55.60) scale(1.08,1)" text-anchor="end">PC</text>
<text transform="translate(503.90,40.90) scale(1.08,1)" text-anchor="end">RBC</text>
<text transform="translate(503.90,55.60) scale(1.08,1)" text-anchor="end">PC</text>
<text transform="translate(15.6,114.7) rotate(-90) scale(1.05,1)" text-anchor="middle">P<tspan dy="4.4" font-size="10">O</tspan><tspan dy="3.8" font-size="7">2</tspan><tspan dy="-8.2">,&#160; mmHg</tspan></text>
<text transform="translate(394.6,114.4) rotate(-90) scale(1.05,1)" text-anchor="middle">P<tspan dy="4.4" font-size="10">CO</tspan><tspan dy="3.8" font-size="7">2</tspan><tspan dy="-8.2">,&#160; mmHg</tspan></text>
<text font-size="12.3" transform="translate(181.29,85.41) scale(1.08,1) rotate(14.39)"><tspan font-style="italic">V</tspan><tspan dy="3.5" font-size="8.0">max</tspan><tspan dy="-3.5"> = 2.5 μmol min</tspan><tspan dy="-5" font-size="8.0" stroke="#111" stroke-width="0.2">−1</tspan><tspan dy="5"> g</tspan><tspan dy="-5" font-size="8.0" stroke="#111" stroke-width="0.2">−1</tspan></text>
<text font-size="12.3" transform="translate(177.81,157.26) scale(1.08,1) rotate(13.86)"><tspan font-style="italic">V</tspan><tspan dy="3.5" font-size="8.0">max</tspan><tspan dy="-3.5"> = 5.0 μmol min</tspan><tspan dy="-5" font-size="8.0" stroke="#111" stroke-width="0.2">−1</tspan><tspan dy="5"> g</tspan><tspan dy="-5" font-size="8.0" stroke="#111" stroke-width="0.2">−1</tspan></text>
<text font-size="12.3" transform="translate(140.91,180.42) scale(1.08,1) rotate(13.13)"><tspan font-style="italic">V</tspan><tspan dy="3.5" font-size="8.0">max</tspan><tspan dy="-3.5"> = 7.5 μmol min</tspan><tspan dy="-5" font-size="8.0" stroke="#111" stroke-width="0.2">−1</tspan><tspan dy="5"> g</tspan><tspan dy="-5" font-size="8.0" stroke="#111" stroke-width="0.2">−1</tspan></text>
<text font-size="12.6" transform="translate(513.37,103.19) scale(1.08,1) rotate(-28.99)"><tspan font-style="italic">V</tspan><tspan dy="3.5" font-size="8.0">max</tspan><tspan dy="-3.5"> = 7.5 μmol min</tspan><tspan dy="-5" font-size="8.0" stroke="#111" stroke-width="0.2">−1</tspan><tspan dy="5"> g</tspan><tspan dy="-5" font-size="8.0" stroke="#111" stroke-width="0.2">−1</tspan></text>
<text font-size="12.6" transform="translate(526.98,130.59) scale(1.08,1) rotate(-23.15)"><tspan font-style="italic">V</tspan><tspan dy="3.5" font-size="8.0">max</tspan><tspan dy="-3.5"> = 5.0 μmol min</tspan><tspan dy="-5" font-size="8.0" stroke="#111" stroke-width="0.2">−1</tspan><tspan dy="5"> g</tspan><tspan dy="-5" font-size="8.0" stroke="#111" stroke-width="0.2">−1</tspan></text>
<text font-size="12.3" transform="translate(542.90,167.50) scale(1.08,1) rotate(-13.07)"><tspan font-style="italic">V</tspan><tspan dy="3.5" font-size="8.0">max</tspan><tspan dy="-3.5"> = 2.5 μmol min</tspan><tspan dy="-5" font-size="8.0" stroke="#111" stroke-width="0.2">−1</tspan><tspan dy="5"> g</tspan><tspan dy="-5" font-size="8.0" stroke="#111" stroke-width="0.2">−1</tspan></text>
</svg>
</body></html>
